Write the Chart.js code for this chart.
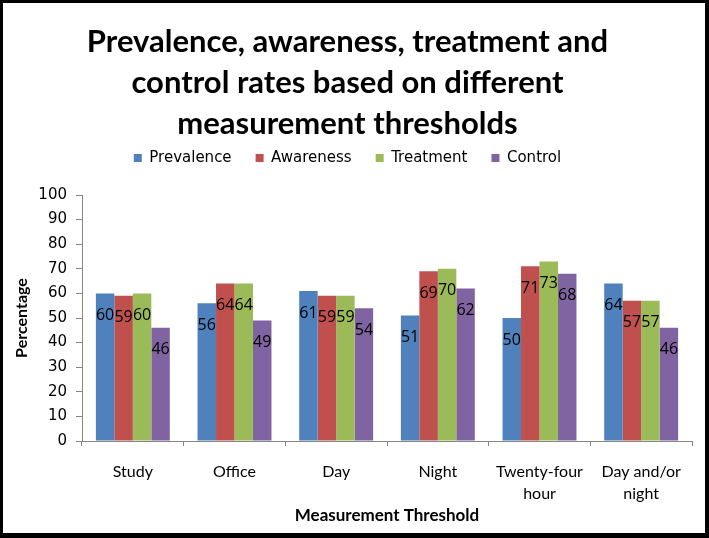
<!DOCTYPE html>
<html>
<head>
<meta charset="utf-8">
<script src="https://cdn.jsdelivr.net/npm/chart.js@4.4.1/dist/chart.umd.min.js"></script>
<style>
  html, body { margin: 0; padding: 0; background: #fff; }
  #frame {
    width: 709px; height: 538px; box-sizing: border-box;
    border-style: solid; border-color: #000;
    border-width: 3px 4px 5px 3px;
    background: #fff;
  }
  #chart { display: block; }
</style>
</head>
<body>
<div id="frame"><canvas id="chart" width="702" height="530"></canvas></div>
<script>
const categories = ["Study", "Office", "Day", "Night", ["Twenty-four", "hour"], ["Day and/or", "night"]];
const prevalence = [60, 56, 61, 51, 50, 64];
const awareness  = [59, 64, 59, 69, 71, 57];
const treatment  = [60, 64, 59, 70, 73, 57];
const control    = [46, 49, 54, 62, 68, 46];
const yTicks = [0, 10, 20, 30, 40, 50, 60, 70, 80, 90, 100];

const titleLines = ["Prevalence, awareness, treatment and", "control rates based on different", "measurement thresholds"];
const axisGray = "#868686";

// value labels drawn just below the top of each bar
const barLabels = {
  id: "barLabels",
  afterDatasetsDraw(chart) {
    const ctx = chart.ctx;
    ctx.save();
    ctx.font = "16px 'Open Sans'";
    ctx.fillStyle = "#000";
    ctx.textAlign = "center";
    ctx.textBaseline = "middle";
    chart.data.datasets.forEach((ds, i) => {
      chart.getDatasetMeta(i).data.forEach((bar, j) => {
        ctx.fillText(ds.data[j], bar.x, bar.y + 22);
      });
    });
    ctx.restore();
  }
};

// empty box between the legend and the plot
const legendGap = {
  id: "legendGap",
  beforeInit(chart) {
    Chart.layouts.addBox(chart, {
      position: "top", weight: 0, fullSize: true, options: {},
      left: 0, top: 0, right: 0, bottom: 0, width: 0, height: 0,
      isHorizontal() { return true; },
      getPadding() { return { left: 0, top: 0, right: 0, bottom: 0 }; },
      update(maxWidth) { this.width = maxWidth; this.height = 19.5; },
      draw() {}
    });
  }
};

new Chart(document.getElementById("chart"), {
  type: "bar",
  data: {
    labels: categories,
    datasets: [
      { label: "Prevalence", data: prevalence, backgroundColor: "#4F81BD" },
      { label: "Awareness", data: awareness, backgroundColor: "#C0504D" },
      { label: "Treatment", data: treatment, backgroundColor: "#9BBB59" },
      { label: "Control", data: control, backgroundColor: "#8064A2" }
    ]
  },
  options: {
    responsive: false,
    animation: false,
    datasets: { bar: { categoryPercentage: 4 / 5.5, barPercentage: 1 } },
    layout: { padding: { left: 0, right: 13, top: 0, bottom: 0 } },
    plugins: {
      tooltip: { enabled: false },
      title: {
        display: true,
        text: titleLines,
        color: "#000",
        font: { family: "Lato", size: 31, weight: "bold", lineHeight: "41px" },
        padding: { top: 18.5, bottom: -18 }
      },
      legend: {
        position: "top",
        labels: {
          color: "#000",
          font: { family: "DejaVu Sans", size: 15 },
          boxWidth: 8, boxHeight: 8,
          padding: 24
        }
      }
    },
    scales: {
      x: {
        grid: { display: true, drawOnChartArea: false, offset: true, color: axisGray, tickLength: 5 },
        border: { color: axisGray },
        ticks: { color: "#000", font: { family: "Lato", size: 16, lineHeight: "22px" }, padding: 15, maxRotation: 0, autoSkip: false },
        title: { display: true, text: "Measurement Threshold", color: "#000", font: { family: "Lato", size: 17, weight: "bold" }, padding: { top: 4, bottom: 7 } },
        afterFit(s) { s.height = 92; }
      },
      y: {
        min: 0, max: 100,
        afterBuildTicks(s) { s.ticks = yTicks.map(v => ({ value: v })); },
        grid: { display: true, drawOnChartArea: false, color: axisGray, tickLength: 6 },
        border: { color: axisGray },
        ticks: { color: "#000", font: { family: "DejaVu Sans", size: 15 }, padding: 9 },
        title: { display: true, text: "Percentage", color: "#000", font: { family: "Lato", size: 16, weight: "bold" }, padding: { top: 9, bottom: 0 } },
        afterFit(s) { s.width = 79; }
      }
    }
  },
  plugins: [barLabels, legendGap]
});
</script>
</body>
</html>
